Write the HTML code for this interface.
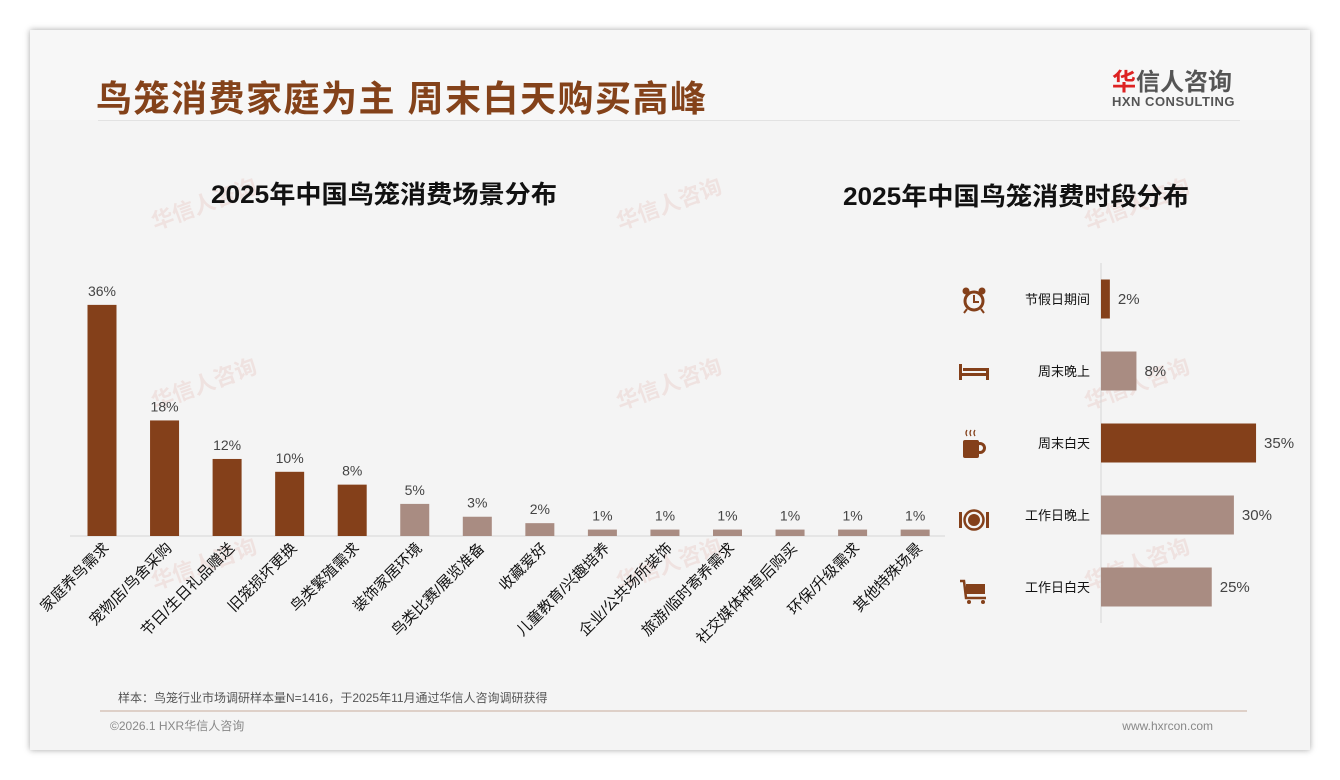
<!DOCTYPE html>
<html><head><meta charset="utf-8">
<style>
html,body{margin:0;padding:0;background:#fff;}
body{width:1340px;height:780px;position:relative;overflow:hidden;font-family:"Liberation Sans","Noto Sans CJK SC",sans-serif;}
#card{position:absolute;left:30px;top:30px;width:1280px;height:720px;background:#f4f4f4;box-shadow:0 0 6px rgba(0,0,0,0.35);}
#header{position:absolute;left:0;top:0;width:1280px;height:90px;background:#f7f7f7;}
#title{position:absolute;left:96px;top:70px;font-size:36px;font-weight:bold;color:#84421a;letter-spacing:1.5px;white-space:nowrap;}
#hline{position:absolute;left:98px;top:120px;width:1142px;height:1px;background:#e2e2e2;}
#logo1{position:absolute;left:1112px;top:62px;font-size:24px;font-weight:bold;color:#555;}
#logo1 span{color:#d22;}
#logo2{position:absolute;left:1112px;top:94px;font-size:13px;font-weight:bold;color:#555;letter-spacing:0.5px;}
svg{position:absolute;left:0;top:0;}
</style></head>
<body>
<div id="card"><div id="header"></div></div>
<div id="title">鸟笼消费家庭为主 周末白天购买高峰</div>
<div id="hline"></div>
<div id="logo1"><span>华</span>信人咨询</div>
<div id="logo2">HXN CONSULTING</div>
<svg id="chart" width="1340" height="780">
<g id="wm" fill="#e8c9c4" opacity="0.4" font-size="22" font-weight="bold"></g>
<text x="384" y="203" text-anchor="middle" font-size="25" font-weight="bold" fill="#111" textLength="346" lengthAdjust="spacingAndGlyphs">2025年中国鸟笼消费场景分布</text>
<text x="1016" y="205" text-anchor="middle" font-size="25" font-weight="bold" fill="#111" textLength="346" lengthAdjust="spacingAndGlyphs">2025年中国鸟笼消费时段分布</text>
<g id="left"></g>
<g id="right"></g>
<g fill="#84401a" stroke="#84401a">
 <g>
  <circle cx="974" cy="301" r="9" fill="none" stroke-width="3"/>
  <path d="M974 295 V302 H979" fill="none" stroke-width="2"/>
  <circle cx="966" cy="291" r="3.5" stroke="none"/><circle cx="982" cy="291" r="3.5" stroke="none"/>
  <path d="M967 309 L964 313 M981 309 L984 313" stroke-width="2"/>
 </g>
 <g stroke="none">
  <rect x="959" y="364" width="3" height="16"/><rect x="986" y="368" width="3" height="12"/>
  <rect x="959" y="373" width="30" height="3"/><rect x="963" y="368" width="23" height="3"/>
 </g>
 <g>
  <rect x="963" y="440" width="16" height="18" rx="2" stroke="none"/>
  <circle cx="980" cy="448" r="4.5" fill="none" stroke-width="3"/>
  <path d="M967 436 q-2 -3 0 -6 M971 436 q-2 -3 0 -6 M975 436 q-2 -3 0 -6" fill="none" stroke-width="1.3"/>
 </g>
 <g>
  <circle cx="974" cy="520" r="9.5" fill="none" stroke-width="2.5"/>
  <circle cx="974" cy="520" r="6" stroke="none"/>
  <rect x="959" y="512" width="3" height="16" stroke="none"/><rect x="986" y="512" width="3" height="16" stroke="none"/>
 </g>
 <g>
  <path d="M960 581 H964 L966 598 H986" fill="none" stroke-width="2.5"/>
  <rect x="966" y="584" width="19" height="10" stroke="none"/>
  <circle cx="969" cy="602" r="2" stroke="none"/><circle cx="983" cy="602" r="2" stroke="none"/>
 </g>
</g>
<text x="118" y="702" font-size="12" fill="#555">样本：鸟笼行业市场调研样本量N=1416，于2025年11月通过华信人咨询调研获得</text>
<line x1="100" y1="711" x2="1247" y2="711" stroke="#c9ab9c" stroke-width="1"/>
<text x="110" y="730" font-size="12" fill="#888">©2026.1 HXR华信人咨询</text>
<text x="1213" y="730" text-anchor="end" font-size="12" fill="#888">www.hxrcon.com</text>
</svg>
<script>
const leftCats=["家庭养鸟需求","宠物店/鸟舍采购","节日/生日礼品赠送","旧笼损坏更换","鸟类繁殖需求","装饰家居环境","鸟类比赛/展览准备","收藏爱好","儿童教育/兴趣培养","企业/公共场所装饰","旅游/临时寄养需求","社交媒体种草后购买","环保/升级需求","其他特殊场景"];
const leftVals=[36,18,12,10,8,5,3,2,1,1,1,1,1,1];
const rightCats=["节假日期间","周末晚上","周末白天","工作日晚上","工作日白天"];
const rightVals=[2,8,35,30,25];
const NS="http://www.w3.org/2000/svg";
function mk(tag,attrs,parent,text){const e=document.createElementNS(NS,tag);for(const k in attrs)e.setAttribute(k,attrs[k]);if(text!==undefined)e.textContent=text;parent.appendChild(e);return e;}
const DARK="#84401a",LIGHT="#a98c82";
const wm=document.getElementById('wm');
[[155,230],[620,230],[1088,230],[155,410],[620,410],[1088,410],[155,590],[620,590],[1088,590]].forEach(p=>{
 const t=mk('text',{x:p[0],y:p[1],transform:`rotate(-20 ${p[0]} ${p[1]})`},wm,'华信人咨询');
 
 
});
const L=document.getElementById('left');
const base=536, x0=102, step=62.55, pxPer=6.42, bw=29;
const xs=i=>x0+i*step, ys=v=>base-v*pxPer;
const ax=mk('line',{x1:70,y1:base,x2:945,y2:base,stroke:"#d6d6d6"},L);


leftVals.forEach((v,i)=>{
 const cx=xs(i);
 const r=mk('rect',{x:cx-bw/2,y:ys(v),width:bw,height:base-ys(v),fill:i<5?DARK:LIGHT},L);
 
 
 const t=mk('text',{x:cx,y:ys(v)-9,'text-anchor':'middle','font-size':14,fill:'#444'},L,v+'%');
 
 
 const lx=cx+8,ly=549;
 const c=mk('text',{x:lx,y:ly,'text-anchor':'end','font-size':15,fill:'#111',transform:`rotate(-45 ${lx} ${ly})`},L,leftCats[i]);
 
 
});
const R=document.getElementById('right');
const ax0=1101, yc0=299, rstep=72, rpx=4.43, bh=39;
const rx=v=>ax0+v*rpx, ry=i=>yc0+i*rstep;
const ay=mk('line',{x1:ax0,y1:263,x2:ax0,y2:623,stroke:"#d6d6d6"},R);


rightVals.forEach((v,i)=>{
 const cy=ry(i);
 const r=mk('rect',{x:ax0,y:cy-bh/2,width:rx(v)-ax0,height:bh,fill:(i==0||i==2)?DARK:LIGHT},R);
 
 
 const t=mk('text',{x:rx(v)+8,y:cy+5,'font-size':15,fill:'#444'},R,v+'%');
 
 
 const c=mk('text',{x:1090,y:cy+5,'text-anchor':'end','font-size':13,fill:'#111'},R,rightCats[i]);
 
 
});
</script>
</body></html>
